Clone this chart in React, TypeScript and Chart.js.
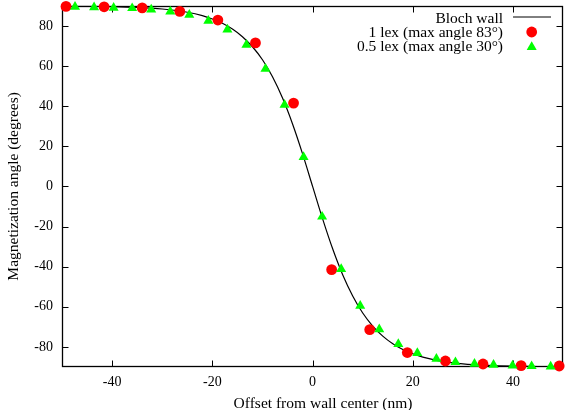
import React, { useEffect, useRef } from "react";
import { Chart, registerables } from "chart.js";

Chart.register(...registerables);

const X_MIN = -50;
const X_MAX = 50;
const Y_MIN = -90;
const Y_MAX = 90;
const X_TICKS = [-40, -20, 0, 20, 40];
const Y_TICKS = [-80, -60, -40, -20, 0, 20, 40, 60, 80];

const X_TITLE = "Offset from wall center (nm)";
const Y_TITLE = "Magnetization angle (degrees)";
const LABEL_BLOCH = "Bloch wall";
const LABEL_LEX1 = "1 lex (max angle 83°)";
const LABEL_LEX05 = "0.5 lex (max angle 30°)";

const blochX = [-50, -45, -40, -35, -30, -25, -22, -20, -18, -16, -14, -12, -10, -8, -6, -4, -2, 0, 2, 4, 6, 8, 10, 12, 14, 16, 18, 20, 22, 25, 30, 35, 40, 45, 50];
const blochY = [89.9, 89.8, 89.6, 89.2, 88.4, 86.8, 85.1, 83.4, 81.3, 78.4, 74.6, 69.6, 63.1, 54.6, 44.0, 31.1, 16.2, 0, -16.2, -31.1, -44.0, -54.6, -63.1, -69.6, -74.6, -78.4, -81.3, -83.4, -85.1, -86.8, -88.4, -89.2, -89.6, -89.8, -89.9];

const lex1X = [-49.2, -41.6, -34.0, -26.5, -18.9, -11.4, -3.8, 3.8, 11.4, 18.9, 26.5, 34.0, 41.6, 49.2];
const lex1Y = [89.7, 89.5, 89.0, 87.2, 82.9, 71.5, 41.5, -41.5, -71.4, -82.8, -87.0, -88.5, -89.3, -89.5];

const lex05X = [-47.4, -43.6, -39.7, -36.0, -32.2, -28.4, -24.6, -20.8, -17.0, -13.2, -9.4, -5.6, -1.8, 1.9, 5.7, 9.5, 13.3, 17.1, 20.9, 24.7, 28.5, 32.3, 36.1, 39.9, 43.7, 47.5];
const lex05Y = [89.5, 89.2, 89.0, 88.8, 88.1, 87.1, 85.5, 82.5, 78.2, 70.6, 58.6, 40.7, 14.6, -15.1, -41.2, -59.5, -71.2, -78.6, -83.1, -85.9, -87.6, -88.4, -88.9, -89.3, -89.6, -89.8];

const FONT = "'Liberation Serif', 'Times New Roman', serif";
const TICK_FONT_SIZE = 14;
const TITLE_FONT_SIZE = 15.5;
const RED = "#ff0000";
const GREEN = "#00ff00";
const CIRCLE_R = 5.4;
const TRI_R = 5.8;

function drawTriangle(ctx: CanvasRenderingContext2D, x: number, y: number, r: number) {
  ctx.beginPath();
  let rad = 0;
  ctx.moveTo(x + Math.sin(rad) * r, y - Math.cos(rad) * r);
  rad += (2 * Math.PI) / 3;
  ctx.lineTo(x + Math.sin(rad) * r, y - Math.cos(rad) * r);
  rad += (2 * Math.PI) / 3;
  ctx.lineTo(x + Math.sin(rad) * r, y - Math.cos(rad) * r);
  ctx.closePath();
  ctx.fill();
}

const framePlugin = {
  id: "gnuplotFrame",
  beforeDatasetsDraw(chart: any) {
    const { ctx, chartArea } = chart;
    const xs = chart.scales.x;
    const ys = chart.scales.y;
    const L = Math.round(chartArea.left) + 0.5;
    const R = Math.round(chartArea.right) - 0.5;
    const T = Math.round(chartArea.top) + 0.5;
    const B = Math.round(chartArea.bottom) - 0.5;
    ctx.save();
    ctx.strokeStyle = "#000";
    ctx.lineWidth = 1;
    ctx.beginPath();
    const tl = 6;
    X_TICKS.forEach((v) => {
      const px = Math.round(xs.getPixelForValue(v)) + 0.5;
      ctx.moveTo(px, B);
      ctx.lineTo(px, B - tl);
      ctx.moveTo(px, T);
      ctx.lineTo(px, T + tl);
    });
    Y_TICKS.forEach((v) => {
      const py = Math.round(ys.getPixelForValue(v)) + 0.5;
      ctx.moveTo(L, py);
      ctx.lineTo(L + tl, py);
      ctx.moveTo(R, py);
      ctx.lineTo(R - tl, py);
    });
    ctx.stroke();
    ctx.lineWidth = 1.3;
    ctx.strokeRect(L, T, R - L, B - T);
    ctx.restore();
  },
  afterDraw(chart: any) {
    const { ctx, chartArea } = chart;
    ctx.save();
    ctx.fillStyle = "#000";
    ctx.font = `${TITLE_FONT_SIZE}px ${FONT}`;
    ctx.textAlign = "center";
    ctx.textBaseline = "alphabetic";
    ctx.fillText(X_TITLE, 323, 407.5);
    ctx.translate(17.5, (chartArea.top + chartArea.bottom) / 2);
    ctx.rotate(-Math.PI / 2);
    ctx.fillText(Y_TITLE, 0, 0);
    ctx.restore();

    ctx.save();
    ctx.font = `${TITLE_FONT_SIZE}px ${FONT}`;
    ctx.fillStyle = "#000";
    ctx.textAlign = "right";
    ctx.textBaseline = "alphabetic";
    const tx = 503;
    const sx = 531.7;
    ctx.fillText(LABEL_BLOCH, tx, 22.5);
    ctx.fillText(LABEL_LEX1, tx, 36.5);
    ctx.fillText(LABEL_LEX05, tx, 50.5);
    ctx.strokeStyle = "#000";
    ctx.lineWidth = 1;
    ctx.beginPath();
    ctx.moveTo(513, 17);
    ctx.lineTo(551, 17);
    ctx.stroke();
    ctx.fillStyle = RED;
    ctx.beginPath();
    ctx.arc(sx, 32, CIRCLE_R, 0, Math.PI * 2);
    ctx.fill();
    ctx.fillStyle = GREEN;
    drawTriangle(ctx, sx, 47, TRI_R);
    ctx.restore();
  },
};

export default function App() {
  const ref = useRef<HTMLCanvasElement | null>(null);
  useEffect(() => {
    if (!ref.current) return;
    Chart.defaults.font.family = FONT;
    Chart.defaults.font.size = TICK_FONT_SIZE;
    Chart.defaults.color = "#000";
    const chart = new Chart(ref.current, {
      type: "scatter",
      data: {
        datasets: [
          {
            type: "line",
            label: LABEL_BLOCH,
            data: blochX.map((x, i) => ({ x, y: blochY[i] })),
            borderColor: "#000",
            borderWidth: 1.2,
            pointRadius: 0,
            cubicInterpolationMode: "monotone",
            fill: false,
            order: 3,
          } as any,
          {
            label: LABEL_LEX1,
            data: lex1X.map((x, i) => ({ x, y: lex1Y[i] })),
            pointStyle: "circle",
            pointRadius: CIRCLE_R,
            pointBackgroundColor: RED,
            pointBorderWidth: 0,
            backgroundColor: RED,
            borderColor: RED,
            clip: false,
            order: 2,
          } as any,
          {
            label: LABEL_LEX05,
            data: lex05X.map((x, i) => ({ x, y: lex05Y[i] })),
            pointStyle: "triangle",
            pointRadius: TRI_R,
            pointBackgroundColor: GREEN,
            pointBorderWidth: 0,
            backgroundColor: GREEN,
            borderColor: GREEN,
            clip: false,
            order: 1,
          } as any,
        ],
      },
      options: {
        animation: false,
        responsive: false,
        devicePixelRatio: 1,
        events: [],
        layout: { padding: { top: 5, right: 2, left: 0, bottom: 0 } },
        plugins: { legend: { display: false }, tooltip: { enabled: false } },
        scales: {
          x: {
            type: "linear",
            min: X_MIN,
            max: X_MAX,
            grid: { display: false, drawTicks: false },
            border: { display: false },
            ticks: { padding: 7, color: "#000", font: { size: TICK_FONT_SIZE, family: FONT }, callback: (v: any) => String(v) },
            afterBuildTicks: (s: any) => {
              s.ticks = X_TICKS.map((v) => ({ value: v }));
            },
            afterFit: (s: any) => {
              s.height = 43;
              s.paddingLeft = 0;
              s.paddingRight = 0;
            },
          },
          y: {
            type: "linear",
            min: Y_MIN,
            max: Y_MAX,
            grid: { display: false, drawTicks: false },
            border: { display: false },
            ticks: { padding: 9, color: "#000", font: { size: TICK_FONT_SIZE, family: FONT }, callback: (v: any) => String(v) },
            afterBuildTicks: (s: any) => {
              s.ticks = Y_TICKS.map((v) => ({ value: v }));
            },
            afterFit: (s: any) => {
              s.width = 62;
              s.paddingTop = 0;
              s.paddingBottom = 0;
            },
          },
        },
      } as any,
      plugins: [framePlugin],
    });
    return () => chart.destroy();
  }, []);
  return (
    <div style={{ position: "absolute", left: 0, top: 0, width: 569, height: 410, background: "#fff" }}>
      <canvas ref={ref} width={569} height={410} style={{ display: "block", width: 569, height: 410 }} />
    </div>
  );
}
